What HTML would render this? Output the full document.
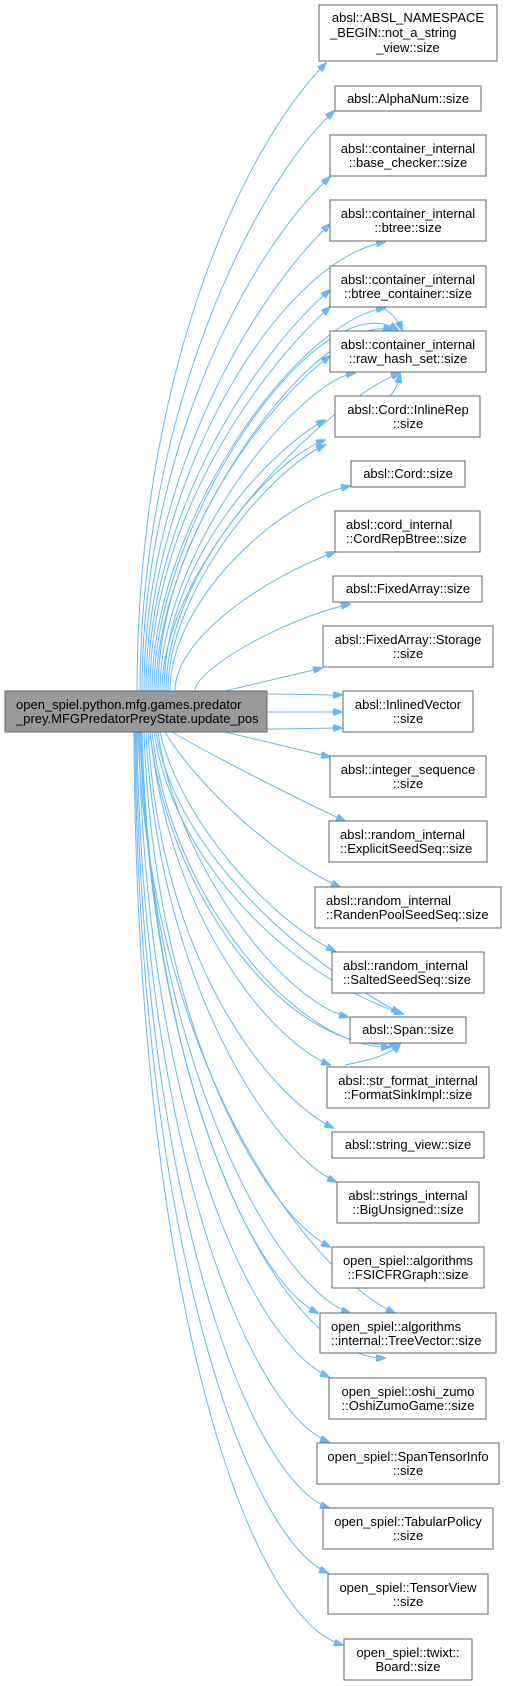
<!DOCTYPE html>
<html><head><meta charset="utf-8"><style>
html,body{margin:0;padding:0;background:#fff}
svg{display:block}
text{font-family:"Liberation Sans",Helvetica,sans-serif;font-size:13px;fill:#000}
.n{fill:#fff;stroke:#666;stroke-width:1}
.e{fill:none;stroke:#63b8ff;stroke-width:1}
</style></head><body>
<svg width="506" height="1686" viewBox="0 0 506 1686" xmlns="http://www.w3.org/2000/svg">
<defs><marker id="a" markerWidth="10" markerHeight="7" refX="9" refY="3.5" orient="auto" markerUnits="userSpaceOnUse"><path d="M0,0 L10,3.5 L0,7 z" fill="#63b8ff" stroke="#63b8ff"/></marker></defs>
<g class="edges" marker-end="url(#a)">
<path class="e" d="M137,691 C137,380 240,150 326,63"/>
<path class="e" d="M140,691 C140,420 250,190 334,111"/>
<path class="e" d="M142,691 C142,450 250,250 330,177"/>
<path class="e" d="M144,691 C144,470 260,290 330,224"/>
<path class="e" d="M146,691 C146,480 280,260 385,242"/>
<path class="e" d="M148,691 C148,500 270,340 330,290"/>
<path class="e" d="M150,691 C150,510 270,360 330,307"/>
<path class="e" d="M152,691 C152,520 300,320 385,308"/>
<path class="e" d="M154,691 C154,520 320,280 398,330"/>
<path class="e" d="M156,691 C156,530 320,310 392,330"/>
<path class="e" d="M158,691 C158,540 270,400 330,356"/>
<path class="e" d="M160,691 C160,550 300,380 355,373"/>
<path class="e" d="M162,691 C162,560 330,400 400,373"/>
<path class="e" d="M330,300 C360,300 390,300 402,330"/>
<path class="e" d="M390,396 C395,390 398,385 400,374"/>
<path class="e" d="M164,691 C164,560 270,450 325,420"/>
<path class="e" d="M166,691 C166,580 270,460 325,440"/>
<path class="e" d="M168,691 C168,590 270,470 325,445"/>
<path class="e" d="M170,691 C170,600 280,500 350,486"/>
<path class="e" d="M175,691 C175,640 260,580 335,552"/>
<path class="e" d="M195,691 C195,670 280,620 350,604"/>
<path class="e" d="M225,691 L322,668"/>
<path class="e" d="M267,694 C300,694 320,695 342,695"/>
<path class="e" d="M267,712 L342,712"/>
<path class="e" d="M267,729 C300,729 320,728 342,728"/>
<path class="e" d="M225,732 L330,757"/>
<path class="e" d="M172,732 C220,760 300,800 345,821"/>
<path class="e" d="M165,732 C200,790 280,860 340,887"/>
<path class="e" d="M160,732 C180,820 270,920 335,951"/>
<path class="e" d="M158,732 C175,860 280,1000 348,1017"/>
<path class="e" d="M156,732 C175,850 300,960 400,1013"/>
<path class="e" d="M154,732 C175,870 300,980 403,1014"/>
<path class="e" d="M152,732 C170,900 300,1050 390,1047"/>
<path class="e" d="M150,732 C170,910 300,1060 398,1043"/>
<path class="e" d="M150,732 C170,920 270,1040 330,1065"/>
<path class="e" d="M345,1065 C370,1060 390,1055 400,1044"/>
<path class="e" d="M148,732 C160,950 260,1090 333,1128"/>
<path class="e" d="M146,732 C158,980 270,1150 336,1182"/>
<path class="e" d="M144,732 C154,1020 260,1210 330,1247"/>
<path class="e" d="M142,732 C150,1060 250,1280 318,1313"/>
<path class="e" d="M140,732 C150,1070 280,1290 350,1313"/>
<path class="e" d="M138,732 C150,1080 320,1280 395,1313"/>
<path class="e" d="M141,732 C150,1100 280,1360 385,1358"/>
<path class="e" d="M139,732 C145,1110 250,1340 329,1377"/>
<path class="e" d="M137,732 C142,1150 250,1410 329,1442"/>
<path class="e" d="M136,732 C140,1200 250,1480 329,1508"/>
<path class="e" d="M135,732 C138,1250 250,1540 328,1573"/>
<path class="e" d="M134,732 C136,1300 250,1620 343,1645"/>
</g>
<g>
<rect x="5" y="691" width="262" height="41" fill="#999" stroke="#666"/>
<text x="16" y="709">open_spiel.python.mfg.games.predator</text>
<text x="16" y="723">_prey.MFGPredatorPreyState.update_pos</text>

<rect class="n" x="319" y="5" width="178" height="56"/>
<text x="408" y="22" text-anchor="middle">absl::ABSL_NAMESPACE</text>
<text x="330" y="37">_BEGIN::not_a_string</text>
<text x="408" y="52" text-anchor="middle">_view::size</text>

<rect class="n" x="335" y="86" width="146" height="25"/>
<text x="408" y="103" text-anchor="middle">absl::AlphaNum::size</text>

<rect class="n" x="330" y="135" width="156" height="41"/>
<text x="408" y="153" text-anchor="middle">absl::container_internal</text>
<text x="408" y="167" text-anchor="middle">::base_checker::size</text>

<rect class="n" x="330" y="200" width="156" height="41"/>
<text x="408" y="218" text-anchor="middle">absl::container_internal</text>
<text x="408" y="232" text-anchor="middle">::btree::size</text>

<rect class="n" x="330" y="266" width="156" height="41"/>
<text x="408" y="284" text-anchor="middle">absl::container_internal</text>
<text x="408" y="298" text-anchor="middle">::btree_container::size</text>

<rect class="n" x="330" y="331" width="156" height="41"/>
<text x="408" y="349" text-anchor="middle">absl::container_internal</text>
<text x="408" y="363" text-anchor="middle">::raw_hash_set::size</text>

<rect class="n" x="335" y="396" width="145" height="41"/>
<text x="408" y="414" text-anchor="middle">absl::Cord::InlineRep</text>
<text x="408" y="428" text-anchor="middle">::size</text>

<rect class="n" x="351" y="461" width="114" height="26"/>
<text x="408" y="478" text-anchor="middle">absl::Cord::size</text>

<rect class="n" x="335" y="511" width="145" height="41"/>
<text x="346" y="529">absl::cord_internal</text>
<text x="346" y="543">::CordRepBtree::size</text>

<rect class="n" x="333" y="576" width="149" height="26"/>
<text x="408" y="593" text-anchor="middle">absl::FixedArray::size</text>

<rect class="n" x="323" y="626" width="170" height="41"/>
<text x="408" y="644" text-anchor="middle">absl::FixedArray::Storage</text>
<text x="408" y="658" text-anchor="middle">::size</text>

<rect class="n" x="343" y="691" width="130" height="41"/>
<text x="408" y="709" text-anchor="middle">absl::InlinedVector</text>
<text x="408" y="723" text-anchor="middle">::size</text>

<rect class="n" x="330" y="756" width="156" height="41"/>
<text x="408" y="774" text-anchor="middle">absl::integer_sequence</text>
<text x="408" y="788" text-anchor="middle">::size</text>

<rect class="n" x="329" y="821" width="158" height="41"/>
<text x="340" y="839">absl::random_internal</text>
<text x="340" y="853">::ExplicitSeedSeq::size</text>

<rect class="n" x="315" y="887" width="186" height="41"/>
<text x="326" y="905">absl::random_internal</text>
<text x="326" y="919">::RandenPoolSeedSeq::size</text>

<rect class="n" x="332" y="952" width="152" height="41"/>
<text x="343" y="970">absl::random_internal</text>
<text x="343" y="984">::SaltedSeedSeq::size</text>

<rect class="n" x="350" y="1017" width="116" height="26"/>
<text x="408" y="1034" text-anchor="middle">absl::Span::size</text>

<rect class="n" x="327" y="1067" width="162" height="41"/>
<text x="408" y="1085" text-anchor="middle">absl::str_format_internal</text>
<text x="408" y="1099" text-anchor="middle">::FormatSinkImpl::size</text>

<rect class="n" x="332" y="1132" width="152" height="26"/>
<text x="408" y="1149" text-anchor="middle">absl::string_view::size</text>

<rect class="n" x="337" y="1182" width="142" height="41"/>
<text x="408" y="1200" text-anchor="middle">absl::strings_internal</text>
<text x="408" y="1214" text-anchor="middle">::BigUnsigned::size</text>

<rect class="n" x="332" y="1247" width="152" height="41"/>
<text x="408" y="1265" text-anchor="middle">open_spiel::algorithms</text>
<text x="408" y="1279" text-anchor="middle">::FSICFRGraph::size</text>

<rect class="n" x="320" y="1313" width="176" height="40"/>
<text x="331" y="1331">open_spiel::algorithms</text>
<text x="331" y="1345">::internal::TreeVector::size</text>

<rect class="n" x="329" y="1378" width="157" height="41"/>
<text x="408" y="1396" text-anchor="middle">open_spiel::oshi_zumo</text>
<text x="408" y="1410" text-anchor="middle">::OshiZumoGame::size</text>

<rect class="n" x="317" y="1443" width="182" height="41"/>
<text x="408" y="1461" text-anchor="middle">open_spiel::SpanTensorInfo</text>
<text x="408" y="1475" text-anchor="middle">::size</text>

<rect class="n" x="323" y="1508" width="170" height="41"/>
<text x="408" y="1526" text-anchor="middle">open_spiel::TabularPolicy</text>
<text x="408" y="1540" text-anchor="middle">::size</text>

<rect class="n" x="328" y="1574" width="160" height="40"/>
<text x="408" y="1592" text-anchor="middle">open_spiel::TensorView</text>
<text x="408" y="1606" text-anchor="middle">::size</text>

<rect class="n" x="344" y="1639" width="128" height="41"/>
<text x="408" y="1657" text-anchor="middle">open_spiel::twixt::</text>
<text x="408" y="1671" text-anchor="middle">Board::size</text>
</g>
</svg>
</body></html>
